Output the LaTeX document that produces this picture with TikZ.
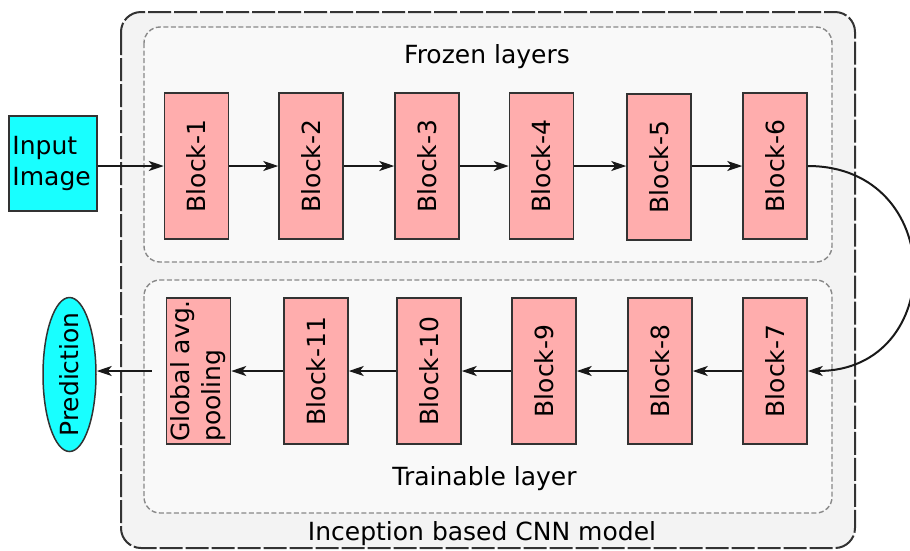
\documentclass[tikz,border=0pt]{standalone}
\usepackage{fontspec}
\setmainfont{DejaVu Sans}
\usetikzlibrary{arrows.meta,shapes.geometric}
\definecolor{blockpink}{RGB}{255,173,173}
\definecolor{inputcyan}{RGB}{24,255,255}
\definecolor{outerfill}{RGB}{243,243,243}
\definecolor{innerfill}{RGB}{249,249,249}
\definecolor{edgegray}{RGB}{51,51,51}
\definecolor{dashgray}{RGB}{136,136,136}

\begin{document}
\begin{tikzpicture}[x=1pt,y=-1pt,
  txt/.style={font=\fontsize{25}{31}\selectfont},
  blk/.style={draw=edgegray, line width=1.5pt, fill=blockpink,
    minimum width=64pt, minimum height=146pt, inner sep=0pt},
  vlbl/.style={txt, rotate=90, inner sep=0pt},
  arr/.style={draw=black!90, line width=2pt,
    -{Stealth[length=15pt,width=10pt,inset=4pt]}},
  outerframe/.style={draw=edgegray, line width=2pt,
    dash pattern=on 23pt off 3pt, fill=outerfill, rounded corners=20pt},
  innerframe/.style={draw=dashgray, line width=1.4pt,
    dash pattern=on 5pt off 2.5pt, fill=innerfill, rounded corners=16pt}]

\useasboundingbox (0,0) rectangle (910,550);

% model frame and the two layer groups
\draw[outerframe] (121,12) rectangle (855,548);
\draw[innerframe] (144,27) rectangle (832,262);
\draw[innerframe] (144,280) rectangle (832,513);

\node[txt, anchor=base] (tfrozen) at (487,63) {Frozen layers};
\node[txt, anchor=base] (ttrain) at (484.5,485) {Trainable layer};
\node[txt, anchor=base] (tmodel) at (482,540) {Inception based CNN model};

% input and output
\node[draw=edgegray, line width=1.5pt, fill=inputcyan, minimum width=88pt,
  minimum height=95pt, inner sep=0pt] (inp) at (53,163.5) {};
\node[txt, align=left, anchor=west, inner sep=0pt] (inptxt)
  at ([xshift=4pt]inp.west) {Input\\Image};
\node[ellipse, draw=edgegray, line width=1.5pt, fill=inputcyan,
  minimum width=53pt, minimum height=154pt, inner sep=0pt,
  label={[vlbl]center:Prediction}] (pred) at (69.5,374.5) {};

% frozen blocks
\node[blk, label={[vlbl]center:Block-1}] (b1) at (196.5,166) {};
\node[blk, label={[vlbl]center:Block-2}] (b2) at (311,166) {};
\node[blk, label={[vlbl]center:Block-3}] (b3) at (427,166) {};
\node[blk, label={[vlbl]center:Block-4}] (b4) at (541.5,166) {};
\node[blk, label={[vlbl]center:Block-5}] (b5) at (659,167) {};
\node[blk, label={[vlbl]center:Block-6}] (b6) at (775,166) {};

% trainable blocks
\node[blk, label={[vlbl]center:Block-7}] (b7) at (775,371) {};
\node[blk, label={[vlbl]center:Block-8}] (b8) at (660,371) {};
\node[blk, label={[vlbl]center:Block-9}] (b9) at (544,371) {};
\node[blk, label={[vlbl]center:Block-10}] (b10) at (429,371) {};
\node[blk, label={[vlbl]center:Block-11}] (b11) at (316,371) {};
\node[blk, label={[vlbl,align=left]center:{Global avg.\\pooling}}] (pool) at (198.5,371) {};

% data flow
\draw[arr] (inp.east |- b1.west) -- (b1.west);
\draw[arr] (b1.east) -- (b2.west);
\draw[arr] (b2.east) -- (b3.west);
\draw[arr] (b3.east) -- (b4.west);
\draw[arr] (b4.east) -- (b5.west |- b4.east);
\draw[arr] (b5.east |- b6.west) -- (b6.west);
\draw[arr] (b6.east) .. controls +(140,0) and +(140,0) .. (b7.east);
\draw[arr] (b7.west) -- (b8.east);
\draw[arr] (b8.west) -- (b9.east);
\draw[arr] (b9.west) -- (b10.east);
\draw[arr] (b10.west) -- (b11.east);
\draw[arr] (b11.west) -- (pool.east);
\draw[arr] ([xshift=-14pt]pool.west) -- (pred.east |- pool.west);
\end{tikzpicture}
\end{document}
